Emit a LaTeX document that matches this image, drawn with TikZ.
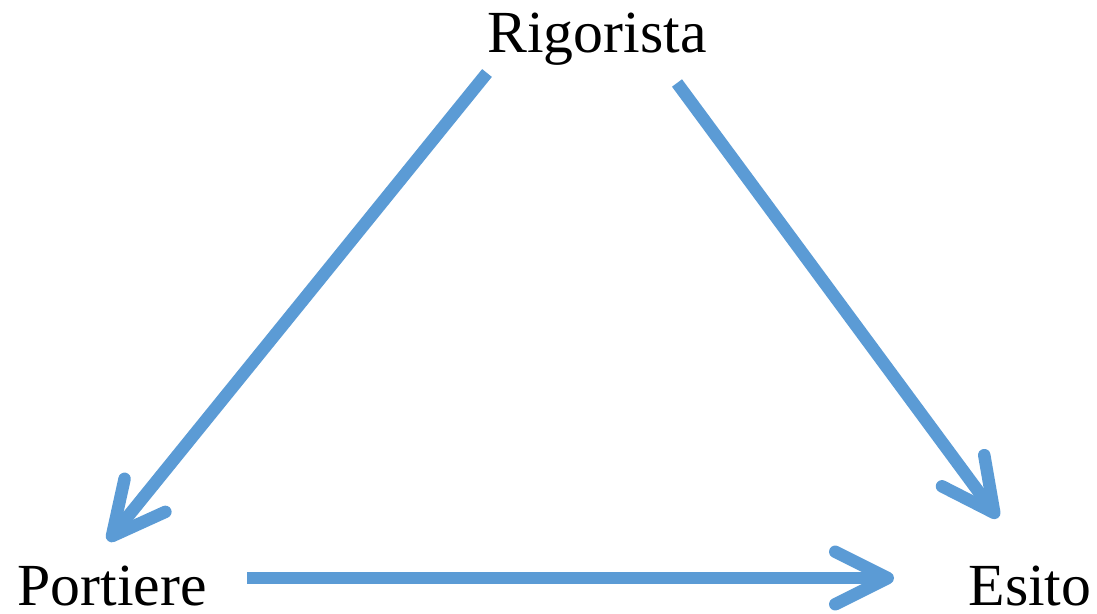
\documentclass[tikz,border=0pt]{standalone}
\usepackage{fontspec}
\setmainfont{Liberation Serif}
\usetikzlibrary{arrows.meta}

\begin{document}
\begin{tikzpicture}[x=0.02cm,y=-0.02cm,
  lbl/.style={inner sep=0pt,anchor=base,font=\fontsize{34}{40}\selectfont},
  link/.style={draw={rgb,255:red,91;green,155;blue,213},line width=0.25cm,
    -{Straight Barb[round,length=1.05cm,width=1.05cm]}}]
\useasboundingbox (0,0) rectangle (1097,614);
\node[lbl] (rig) at (597,53) {Rigorista};
\node[lbl] (port) at (112,605) {Portiere};
\node[lbl] (esito) at (1030,605) {Esito};
\coordinate (rigL) at (487,73);
\coordinate (rigR) at (677,83);
\coordinate (portT) at (108,541);
\coordinate (portR) at (247,578);
\coordinate (esitoT) at (998,518);
\coordinate (esitoL) at (894,578);
\draw[link] (rigL) -- (portT);
\draw[link] (rigR) -- (esitoT);
\draw[link] (portR) -- (esitoL);
\end{tikzpicture}
\end{document}
